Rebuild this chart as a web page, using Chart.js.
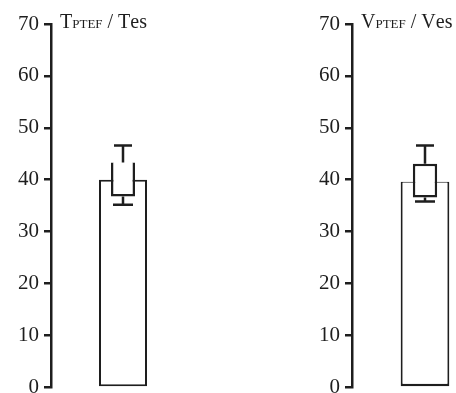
<!DOCTYPE html>
<html>
<head>
<meta charset="utf-8">
<script src="https://cdn.jsdelivr.net/npm/chart.js@4"></script>
<style>
  html, body { margin: 0; padding: 0; background: #fff; overflow: hidden; }
  body { width: 456px; height: 393px; position: relative; }
  .panel { position: absolute; top: 0; }
</style>
</head>
<body>
<div class="panel" style="left:0px;width:195px;height:405px"><canvas id="graficoT"></canvas></div>
<div class="panel" style="left:301px;width:197px;height:405px"><canvas id="graficoV"></canvas></div>
<script>
// values, one entry per panel
const categories = ['TPTEF / Tes', 'VPTEF / Ves'];
const titleParts = [
  [['T', 'big'], ['PTEF', 'small'], [' / T', 'big'], ['es', 'big']],
  [['V', 'big'], ['PTEF', 'small'], [' / V', 'big'], ['es', 'big']]
];
const barValues = [40, 39.6];
const boxLow = [36.75, 36.6];
const boxHigh = [43.3, 43.1];
const whiskerHigh = [46.6, 46.6];
const whiskerLow = [35.2, 35.8];
const yMin = 0, yMax = 70, yStep = 10;

const tinta = '#1e1e1e';

const desenhaExtras = {
  id: 'desenhaExtras',
  afterDatasetsDraw(chart, args, opts) {
    const i = opts.indice;
    const ctx = chart.ctx;
    const y = chart.scales.y;
    const x = chart.scales.x;
    const cx = x.getPixelForValue(0);
    ctx.save();
    ctx.strokeStyle = tinta;
    ctx.lineWidth = 2.5;
    // bigode de cima
    let yTop = y.getPixelForValue(whiskerHigh[i]);
    ctx.beginPath();
    ctx.moveTo(cx, y.getPixelForValue(boxHigh[i]));
    ctx.lineTo(cx, yTop);
    ctx.moveTo(cx - 9, yTop);
    ctx.lineTo(cx + 9, yTop);
    // bigode de baixo
    let yBot = y.getPixelForValue(whiskerLow[i]);
    ctx.moveTo(cx, y.getPixelForValue(boxLow[i]));
    ctx.lineTo(cx, yBot);
    ctx.moveTo(cx - 10, yBot);
    ctx.lineTo(cx + 10, yBot);
    ctx.stroke();

    // titulo com versaletes
    let px = chart.chartArea.left + 9;
    const base = chart.chartArea.top + 4;
    ctx.fillStyle = tinta;
    ctx.textBaseline = 'alphabetic';
    titleParts[i].forEach(([texto, tam]) => {
      ctx.font = (tam === 'big' ? '20px' : '13px') + ' "Liberation Serif", serif';
      ctx.fillText(texto, px, base);
      px += ctx.measureText(texto).width;
    });
    ctx.restore();
  }
};

function criaGrafico(id, i) {
  return new Chart(document.getElementById(id), {
    type: 'bar',
    data: {
      labels: [categories[i]],
      datasets: [{
        label: 'caixa',
        data: [[boxLow[i], boxHigh[i]]],
        backgroundColor: '#fff',
        borderColor: tinta,
        borderWidth: 2.5,
        borderSkipped: i === 0 ? 'top' : false,
        grouped: false,
        categoryPercentage: 1,
        barPercentage: 1 / 6,
        order: 1
      }, {
        label: 'media',
        data: [barValues[i]],
        backgroundColor: '#fff',
        borderColor: tinta,
        borderWidth: i === 0 ? 2 : { top: 1, left: 2, right: 2, bottom: 2.5 },
        borderSkipped: false,
        grouped: false,
        categoryPercentage: 1,
        barPercentage: 1 / 3,
        order: 2
      }]
    },
    options: {
      responsive: true,
      maintainAspectRatio: false,
      animation: false,
      layout: { padding: { top: 24, bottom: 14, left: 0, right: 0 } },
      plugins: {
        legend: { display: false },
        tooltip: { enabled: false },
        desenhaExtras: { indice: i }
      },
      scales: {
        x: { display: false },
        y: {
          min: yMin,
          max: yMax,
          afterFit: s => { s.width = 51; },
          ticks: {
            stepSize: yStep,
            padding: 5,
            color: tinta,
            font: { family: '"Liberation Serif", serif', size: 21 }
          },
          grid: {
            drawOnChartArea: false,
            color: tinta,
            lineWidth: 2.5,
            tickLength: 7
          },
          border: { display: true, color: tinta, width: 2.5 }
        }
      }
    },
    plugins: [desenhaExtras]
  });
}

criaGrafico('graficoT', 0);
criaGrafico('graficoV', 1);
</script>
</body>
</html>
